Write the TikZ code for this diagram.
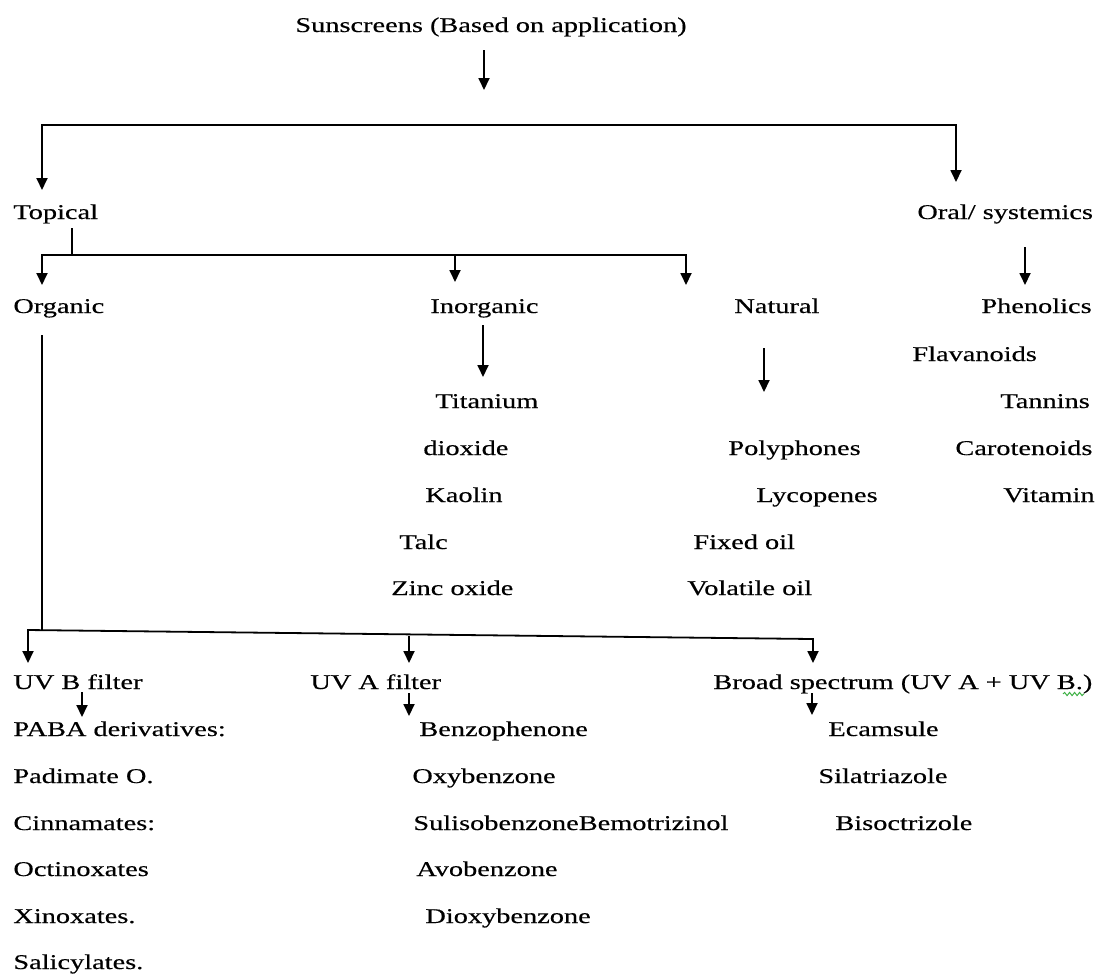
\documentclass[tikz,border=0pt]{standalone}
\usepackage{fontspec}
\setmainfont{Liberation Serif}[FakeStretch=1.35, FakeBold=0.4]
\usetikzlibrary{arrows.meta, decorations.pathmorphing}
\definecolor{sline}{HTML}{000000}
\definecolor{sspell}{HTML}{3CB043}
\tikzset{
  lbl/.style={anchor=base west, inner sep=0pt, font=\fontsize{10.5}{12}\selectfont},
  ln/.style={sline, line width=0.9pt},
  arr/.style={-{Triangle[width=5.5pt,length=6pt]}, sline, line width=0.9pt},
  darr/.style={{Triangle[width=5.5pt,length=6pt]}-{Triangle[width=5.5pt,length=6pt]}, sline, line width=0.9pt},
}

\begin{document}
\begin{tikzpicture}[x=0.5pt, y=-0.5pt]
  \useasboundingbox (0,0) rectangle (1096,976);

  %% ── top levels ──
  \node[lbl] (title)     at (295,32)  {Sunscreens (Based on application)};
  \node[lbl] (topical)   at (13,219)  {Topical};
  \node[lbl] (oral)      at (917,219) {Oral/ systemics};
  \node[lbl] (organic)   at (13,313)  {Organic};
  \node[lbl] (inorganic) at (430,313) {Inorganic};
  \node[lbl] (natural)   at (734,313) {Natural};
  \node[lbl] (phenolics) at (981,313) {Phenolics};

  %% ── inorganic / natural / oral lists ──
  \node[lbl] (flav)     at (912,361)  {Flavanoids};
  \node[lbl] (titanium) at (435,408)  {Titanium};
  \node[lbl] (tannins)  at (1000,408) {Tannins};
  \node[lbl] (dioxide)  at (423,455)  {dioxide};
  \node[lbl] (polyph)   at (728,455)  {Polyphones};
  \node[lbl] (carot)    at (955,455)  {Carotenoids};
  \node[lbl] (kaolin)   at (425,502)  {Kaolin};
  \node[lbl] (lycop)    at (756,502)  {Lycopenes};
  \node[lbl] (vitamin)  at (1003,502) {Vitamin};
  \node[lbl] (talc)     at (399,549)  {Talc};
  \node[lbl] (fixoil)   at (693,549)  {Fixed oil};
  \node[lbl] (zinc)     at (391,595)  {Zinc oxide};
  \node[lbl] (voloil)   at (687,595)  {Volatile oil};

  %% ── filters ──
  \node[lbl] (uvb)   at (13,689)  {UV B filter};
  \node[lbl] (uva)   at (310,689) {UV A filter};
  \node[lbl] (broad) at (713,689) {Broad spectrum (UV A + UV B.)};

  \node[lbl] (paba)   at (13,736) {PABA derivatives:};
  \node[lbl] (padim)  at (13,783) {Padimate O.};
  \node[lbl] (cinna)  at (13,830) {Cinnamates:};
  \node[lbl] (octin)  at (13,876) {Octinoxates};
  \node[lbl] (xinox)  at (13,923) {Xinoxates.};
  \node[lbl] (salic)  at (13,969) {Salicylates.};

  \node[lbl] (benzo)  at (419,736) {Benzophenone};
  \node[lbl] (oxyb)   at (412,783) {Oxybenzone};
  \node[lbl] (sulis)  at (413,830) {SulisobenzoneBemotrizinol};
  \node[lbl] (avob)   at (416,876) {Avobenzone};
  \node[lbl] (dioxyb) at (425,923) {Dioxybenzone};

  \node[lbl] (ecam)   at (828,736) {Ecamsule};
  \node[lbl] (silat)  at (818,783) {Silatriazole};
  \node[lbl] (bisoc)  at (835,830) {Bisoctrizole};

  %% ── spell-check mark ──
  \draw[sspell, line width=0.5pt, decorate,
        decoration={snake, amplitude=0.8pt, segment length=2.5pt}]
        (1063,694) -- (1084,694);

  %% ── connector points ──
  \coordinate (titA) at (484,50);   \coordinate (titB) at (484,90);
  \coordinate (f1L)  at (42,125);   \coordinate (f1R)  at (956,125);
  \coordinate (topA) at (42,190);   \coordinate (oraA) at (956,182);
  \coordinate (tpS)  at (72,228);   \coordinate (tpJ)  at (72,255);
  \coordinate (f2L)  at (42,255);   \coordinate (f2M)  at (455,255);
  \coordinate (f2R)  at (686,255);
  \coordinate (orgA) at (42,285);   \coordinate (inoA) at (455,282);
  \coordinate (natA) at (686,285);
  \coordinate (orS)  at (1025,247); \coordinate (orE)  at (1025,285);
  \coordinate (inS)  at (483,325);  \coordinate (inE)  at (483,377);
  \coordinate (naS)  at (764,348);  \coordinate (naE)  at (764,392);
  \coordinate (ogS)  at (42,335);   \coordinate (ogJ)  at (42,630);
  \coordinate (f3L)  at (28,630);   \coordinate (f3R)  at (813,639);
  \coordinate (f3M)  at (409,636);
  \coordinate (uvbA) at (28,663);   \coordinate (uvaA) at (409,663);
  \coordinate (brdA) at (813,663);
  \coordinate (ubS)  at (82,692);   \coordinate (ubE)  at (82,717);
  \coordinate (uaS)  at (409,693);  \coordinate (uaE)  at (409,716);
  \coordinate (bdS)  at (812,693);  \coordinate (bdE)  at (812,715);

  %% ── connectors ──
  \draw[arr]  (titA) -- (titB);
  \draw[darr] (topA) -- (f1L) -- (f1R) -- (oraA);
  \draw[ln]   (tpS) -- (tpJ);
  \draw[darr] (orgA) -- (f2L) -- (f2R) -- (natA);
  \draw[arr]  (f2M) -- (inoA);
  \draw[arr]  (orS) -- (orE);
  \draw[arr]  (inS) -- (inE);
  \draw[arr]  (naS) -- (naE);
  \draw[ln]   (ogS) -- (ogJ);
  \draw[darr] (uvbA) -- (f3L) -- (f3R) -- (brdA);
  \draw[arr]  (f3M) -- (uvaA);
  \draw[arr]  (ubS) -- (ubE);
  \draw[arr]  (uaS) -- (uaE);
  \draw[arr]  (bdS) -- (bdE);
\end{tikzpicture}
\end{document}
